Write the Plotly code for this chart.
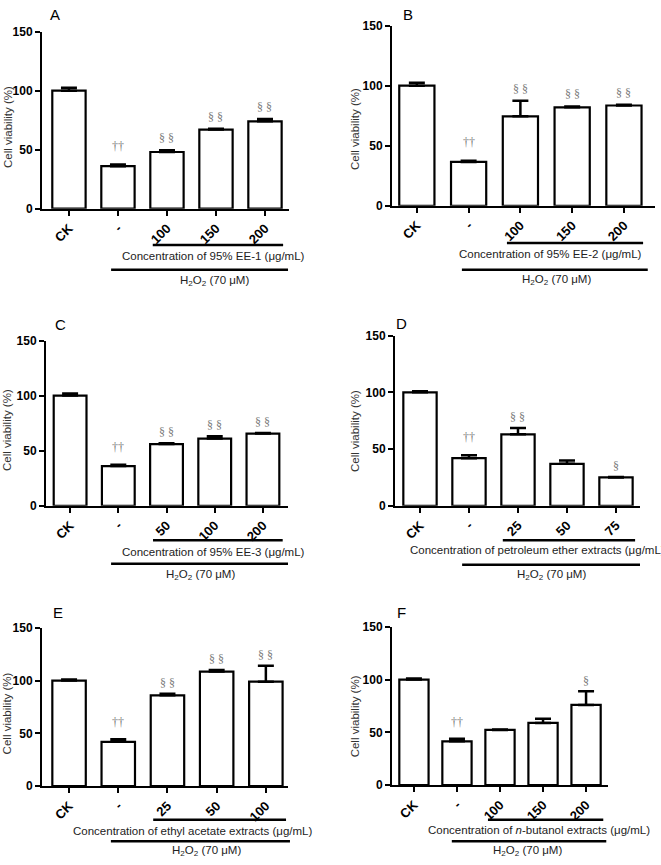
import plotly.graph_objects as go

W, H = 661, 865

# ---------------- data ----------------
panel_letters = ["A", "B", "C", "D", "E", "F"]

ticks_A = ["CK", "-", "100", "150", "200"]
ticks_B = ["CK", "-", "100", "150", "200"]
ticks_C = ["CK", "-", "50", "100", "200"]
ticks_D = ["CK", "-", "25", "50", "75"]
ticks_E = ["CK", "-", "25", "50", "100"]
ticks_F = ["CK", "-", "100", "150", "200"]

vals_A = [100, 36, 48, 67, 74]
errs_A = [2.5, 1.5, 1.5, 0.8, 2.0]
vals_B = [100, 36.5, 74.5, 82, 83.5]
errs_B = [2.5, 1.0, 13.0, 0.7, 0.7]
vals_C = [100, 36, 56, 61, 65.5]
errs_C = [2.0, 1.2, 0.8, 2.0, 0.6]
vals_D = [100, 42, 63, 37, 25]
errs_D = [1.0, 2.5, 5.5, 3.0, 0.3]
vals_E = [100, 42, 86, 108.5, 99]
errs_E = [1.0, 2.5, 1.5, 1.5, 15.0]
vals_F = [100, 41.5, 52.3, 59, 76]
errs_F = [1.0, 2.5, 0.5, 4.0, 13.0]

sig_A = ["", "††", "§§", "§§", "§§"]
sig_B = ["", "††", "§§", "§§", "§§"]
sig_C = ["", "††", "§§", "§§", "§§"]
sig_D = ["", "††", "§§", "", "§"]
sig_E = ["", "††", "§§", "§§", "§§"]
sig_F = ["", "††", "", "", "§"]

conc_labels = [
    "Concentration of 95% EE-1 (μg/mL)",
    "Concentration of 95% EE-2 (μg/mL)",
    "Concentration of 95% EE-3 (μg/mL)",
    "Concentration of petroleum ether extracts (μg/mL)",
    "Concentration of ethyl acetate extracts (μg/mL)",
    "Concentration of <i>n</i>-butanol extracts (μg/mL)",
]
h2o2_label = "H<sub>2</sub>O<sub>2</sub> (70 μM)"
y_title = "Cell viability (%)"
y_ticks = [0, 50, 100, 150]

panels_ticks = [ticks_A, ticks_B, ticks_C, ticks_D, ticks_E, ticks_F]
panels_vals = [vals_A, vals_B, vals_C, vals_D, vals_E, vals_F]
panels_errs = [errs_A, errs_B, errs_C, errs_D, errs_E, errs_F]
panels_sig = [sig_A, sig_B, sig_C, sig_D, sig_E, sig_F]

# ---------------- layout geometry (pixels) ----------------
geo = [
    dict(x=(42, 289), y=(205, 25), xr=(-0.55, 4.49), letter=(55, 8), ytitle=(8, 122),
         l1=(1.71, 4.37, 242), l2=(0.86, 4.47, 267), t1=(213, 253, "center"), t2=(214, 278)),
    dict(x=(392, 655), y=(202, 19), xr=(-0.48, 4.6), letter=(408, 8), ytitle=(355, 124),
         l1=(1.74, 4.37, 240), l2=(0.87, 4.46, 267), t1=(550, 251, "center"), t2=(556, 277)),
    dict(x=(46, 288), y=(507, 339), xr=(-0.5, 4.52), letter=(60, 323), ytitle=(7, 430),
         l1=(1.72, 4.41, 542), l2=(0.85, 4.52, 566), t1=(213, 554, "center"), t2=(200, 577)),
    dict(x=(395, 640), y=(507, 334), xr=(-0.51, 4.49), letter=(402, 322), ytitle=(355, 431),
         l1=(1.69, 4.39, 542), l2=(0.86, 4.49, 567), t1=(408, 552, "left"), t2=(551, 577)),
    dict(x=(42, 288), y=(792, 631), xr=(-0.55, 4.45), letter=(58, 615), ytitle=(7, 718),
         l1=(1.71, 4.41, 826), l2=(0.85, 4.49, 848), t1=(192, 838, "center"), t2=(206, 858)),
    dict(x=(392, 608), y=(791, 630), xr=(-0.51, 4.51), letter=(402, 615), ytitle=(355, 721),
         l1=(1.72, 4.40, 826), l2=(0.88, 4.47, 848), t1=(539, 837, "center"), t2=(527, 858)),
]

SANS = "Liberation Sans, Arial, sans-serif"
SERIF = "Liberation Serif, Times New Roman, serif"


def px_x(v):
    return v / W


def px_y(v):
    return 1 - v / H


fig = go.Figure()
layout_axes = {}
shapes = []
annotations = []

for i in range(6):
    g = geo[i]
    n = i + 1
    xa = "xaxis" if n == 1 else f"xaxis{n}"
    ya = "yaxis" if n == 1 else f"yaxis{n}"
    xref = "x" if n == 1 else f"x{n}"
    yref = "y" if n == 1 else f"y{n}"
    cats = list(range(len(panels_ticks[i])))
    vals = panels_vals[i]
    errs = panels_errs[i]

    fig.add_trace(go.Bar(
        x=cats, y=vals, xaxis=xref, yaxis=yref, width=0.68,
        marker=dict(color="white", line=dict(color="black", width=2.2)),
        error_y=dict(type="data", symmetric=False, array=errs, arrayminus=[0] * len(errs),
                     color="black", thickness=2.5, width=8),
        showlegend=False, hoverinfo="skip",
    ))

    d0, d1 = px_x(g["x"][0]), px_x(g["x"][1])
    layout_axes[xa] = dict(
        domain=[d0, d1], range=list(g["xr"]), anchor=yref,
        tickmode="array", tickvals=cats, ticktext=[f"<b>{t}</b>" for t in panels_ticks[i]],
        tickangle=-45, ticks="outside", ticklen=5, tickwidth=1.5, tickcolor="black",
        showline=True, linecolor="black", linewidth=2, showgrid=False, zeroline=False,
        tickfont=dict(family=SANS, size=13, color="black"), fixedrange=True,
    )
    layout_axes[ya] = dict(
        domain=[px_y(g["y"][0]), px_y(g["y"][1])], range=[0, 150], anchor=xref,
        tickmode="array", tickvals=y_ticks, ticktext=[f"<b>{t}</b>" for t in y_ticks],
        ticks="outside", ticklen=5, tickwidth=2, tickcolor="black",
        showline=True, linecolor="black", linewidth=2, showgrid=False, zeroline=False,
        tickfont=dict(family=SANS, size=12, color="black"), fixedrange=True,
    )

    def cat_to_paper(c, d0=d0, d1=d1, r=g["xr"]):
        return d0 + (c - r[0]) / (r[1] - r[0]) * (d1 - d0)

    for key in ("l1", "l2"):
        c0, c1, ypx = g[key]
        shapes.append(dict(type="line", xref="paper", yref="paper",
                           x0=cat_to_paper(c0), x1=cat_to_paper(c1),
                           y0=px_y(ypx), y1=px_y(ypx),
                           line=dict(color="black", width=2.5)))

    tx, ty, anch = g["t1"]
    annotations.append(dict(text=conc_labels[i], x=px_x(tx), y=px_y(ty), xref="paper", yref="paper",
                            xanchor=anch, yanchor="middle", showarrow=False,
                            font=dict(family=SANS, size=11.5, color="#222")))
    tx, ty = g["t2"]
    annotations.append(dict(text=h2o2_label, x=px_x(tx), y=px_y(ty), xref="paper", yref="paper",
                            xanchor="center", yanchor="middle", showarrow=False,
                            font=dict(family=SANS, size=11.5, color="#222")))
    lx, ly = g["letter"]
    annotations.append(dict(text=panel_letters[i], x=px_x(lx), y=px_y(ly), xref="paper", yref="paper",
                            xanchor="center", yanchor="middle", showarrow=False,
                            font=dict(family=SANS, size=15, color="black")))
    yx, yy = g["ytitle"]
    annotations.append(dict(text=y_title, x=px_x(yx), y=px_y(yy), xref="paper", yref="paper",
                            xanchor="center", yanchor="middle", textangle=-90, showarrow=False,
                            font=dict(family=SANS, size=11.5, color="#333")))
    for c, v, e, s in zip(cats, vals, errs, panels_sig[i]):
        if not s:
            continue
        off = 16 if s.startswith("†") else 10
        txt = " ".join(s) if s.startswith("§") else s
        annotations.append(dict(text=txt, x=c, y=v + e + off, xref=xref, yref=yref,
                                xanchor="center", yanchor="middle", showarrow=False,
                                font=dict(family=SERIF, size=12, color="#7a7a7a")))

fig.update_layout(
    width=W, height=H, margin=dict(l=0, r=0, t=0, b=0),
    paper_bgcolor="white", plot_bgcolor="white",
    shapes=shapes, annotations=annotations, bargap=0.3,
    **layout_axes,
)

fig.write_html(
    "out.html",
    config=dict(displayModeBar=False),
    post_script="document.body.style.margin='0';document.body.style.padding='0';",
)
